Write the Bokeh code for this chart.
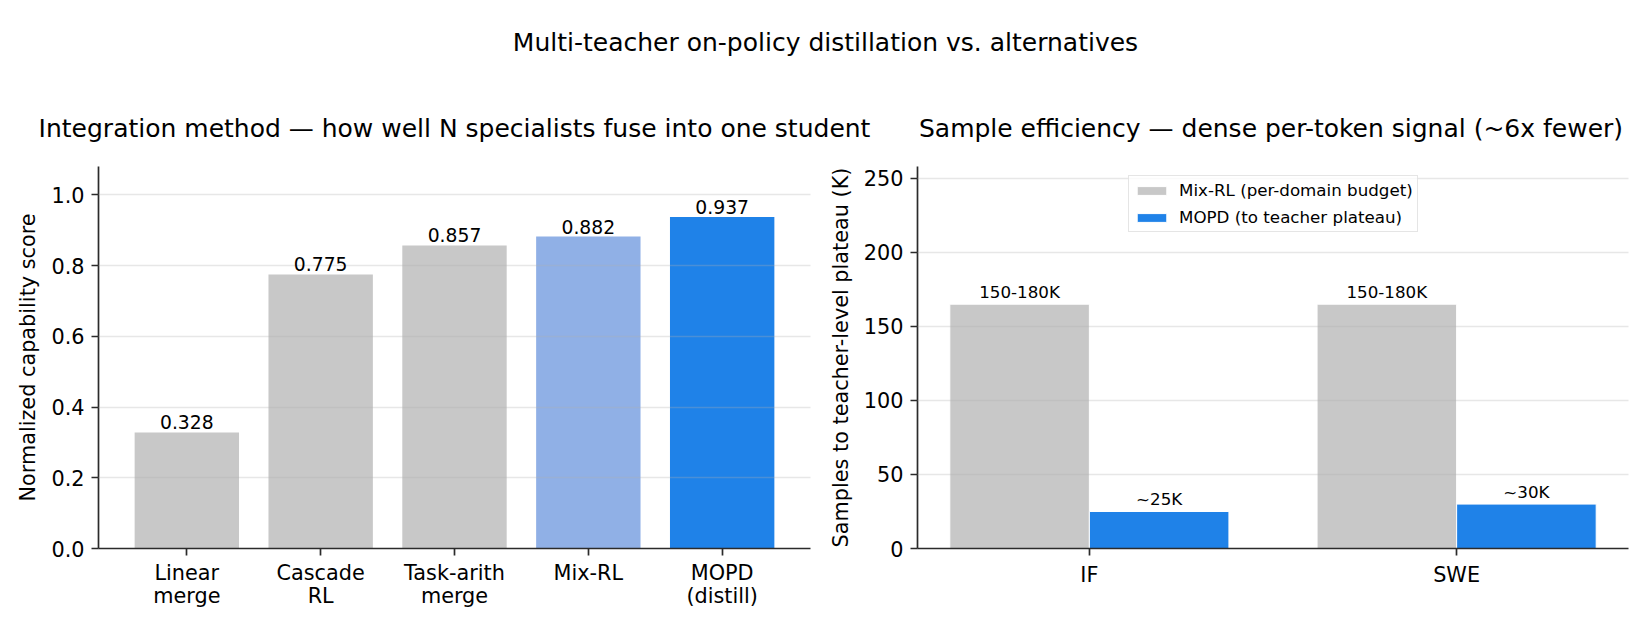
from bokeh.plotting import figure
from bokeh.layouts import column, row
from bokeh.models import (ColumnDataSource, Range1d, FixedTicker, PrintfTickFormatter,
                          LabelSet, Legend, LegendItem, Label)
from bokeh.core.properties import value
from bokeh.transform import dodge
from bokeh.embed import file_html
from bokeh.resources import INLINE

FONT = "DejaVu Sans"
INK = "#2b2b2b"

suptitle = "Multi-teacher on-policy distillation vs. alternatives"

# Left panel: integration methods
left_title = "Integration method \u2014 how well N specialists fuse into one student"
methods = ["Linear\nmerge", "Cascade\nRL", "Task-arith\nmerge", "Mix-RL", "MOPD\n(distill)"]
scores = [0.328, 0.775, 0.857, 0.882, 0.937]
score_labels = ["0.328", "0.775", "0.857", "0.882", "0.937"]
method_colors = ["#c8c8c8", "#c8c8c8", "#c8c8c8", "#90b0e6", "#1f82e8"]
score_ticks = [0.0, 0.2, 0.4, 0.6, 0.8, 1.0]

# Right panel: samples needed to reach the teacher plateau (thousands)
right_title = "Sample efficiency \u2014 dense per-token signal (~6x fewer)"
domains = ["IF", "SWE"]
mixrl_samples = [165, 165]
mopd_samples = [25, 30]
mixrl_labels = ["150-180K", "150-180K"]
mopd_labels = ["~25K", "~30K"]
sample_ticks = [0, 50, 100, 150, 200, 250]
series_names = ["Mix-RL (per-domain budget)", "MOPD (to teacher plateau)"]
series_colors = ["#c8c8c8", "#1f82e8"]

HEADER_H = 150
LEFT_W, RIGHT_W = 825, 825
# frame geometry (left border, frame width) for each panel
L_BORDER, L_FRAME = 98, 712
R_BORDER, R_FRAME = 90, 711


def style_axes(p):
    p.outline_line_color = None
    p.xgrid.visible = False
    p.ygrid.grid_line_color = "#b0b0b0"
    p.ygrid.grid_line_alpha = 0.3
    p.ygrid.grid_line_width = 1.5
    p.ygrid.level = "guide"
    for ax in (p.xaxis[0], p.yaxis[0]):
        ax.axis_line_color = INK
        ax.axis_line_width = 1.7
        ax.major_tick_line_color = INK
        ax.major_tick_line_width = 1.7
        ax.major_tick_out = 7
        ax.major_tick_in = 0
        ax.minor_tick_line_color = None
        ax.major_label_standoff = 7
        ax.major_label_text_font = FONT
        ax.major_label_text_font_size = "20.8px"
        ax.major_label_text_color = "black"
        ax.major_label_text_line_height = 0.96
        ax.axis_label_text_font = FONT
        ax.axis_label_text_font_size = "20.8px"
        ax.axis_label_text_font_style = "normal"
        ax.axis_label_text_color = "black"
        ax.axis_label_standoff = 8


def header_text(p, x, y, text):
    p.add_layout(Label(x=x, y=y, text=text, text_align="center", text_baseline="middle",
                       text_font=FONT, text_font_size="25px", text_color="black"))


# Header band holding the overall title and both panel titles
p0 = figure(width=LEFT_W + RIGHT_W, height=HEADER_H, x_axis_type=None, y_axis_type=None,
            x_range=Range1d(0, LEFT_W + RIGHT_W), y_range=Range1d(HEADER_H, 0),
            min_border=0, toolbar_location=None, output_backend="svg")
p0.grid.visible = False
p0.outline_line_color = None
header_text(p0, (LEFT_W + RIGHT_W) / 2, 42, suptitle)
header_text(p0, L_BORDER + L_FRAME / 2, 128, left_title)
header_text(p0, LEFT_W + R_BORDER + R_FRAME / 2, 128, right_title)

# Left panel
src1 = ColumnDataSource(dict(x=list(range(len(methods))), score=scores,
                             label=score_labels, color=method_colors))
p1 = figure(frame_width=L_FRAME, frame_height=382, min_border_left=L_BORDER,
            min_border_right=LEFT_W - L_BORDER - L_FRAME,
            min_border_top=16, min_border_bottom=82,
            x_range=Range1d(-0.66, len(methods) - 1 + 0.66), y_range=Range1d(0, 1.08),
            toolbar_location=None, output_backend="svg")
p1.vbar(x="x", top="score", width=0.78, fill_color="color", line_color=None, source=src1)
p1.add_layout(LabelSet(x="x", y="score", text="label", source=src1, text_align="center",
                       text_baseline="alphabetic", y_offset=3, text_font=value(FONT),
                       text_font_size="18.75px", text_color="black"))
style_axes(p1)
p1.xaxis.ticker = FixedTicker(ticks=list(range(len(methods))))
p1.xaxis.major_label_overrides = {i: m for i, m in enumerate(methods)}
p1.xaxis.major_label_standoff = 5
p1.yaxis.ticker = FixedTicker(ticks=score_ticks)
p1.yaxis.formatter = PrintfTickFormatter(format="%.1f")
p1.yaxis.axis_label = "Normalized capability score"

# Right panel
src2 = ColumnDataSource(dict(x=list(range(len(domains))), mixrl=mixrl_samples,
                             mopd=mopd_samples, mixrl_label=mixrl_labels,
                             mopd_label=mopd_labels))
p2 = figure(frame_width=R_FRAME, frame_height=382, min_border_left=R_BORDER,
            min_border_right=RIGHT_W - R_BORDER - R_FRAME,
            min_border_top=16, min_border_bottom=82,
            x_range=Range1d(-0.468, len(domains) - 1 + 0.468), y_range=Range1d(0, 258),
            toolbar_location=None, output_backend="svg")
r_mix = p2.vbar(x=dodge("x", -0.19), top="mixrl", width=0.38, fill_color=series_colors[0],
                line_color="white", line_width=1, source=src2)
r_mopd = p2.vbar(x=dodge("x", 0.19), top="mopd", width=0.38, fill_color=series_colors[1],
                 line_color="white", line_width=1, source=src2)
for field, lab, off in (("mixrl", "mixrl_label", -0.19), ("mopd", "mopd_label", 0.19)):
    p2.add_layout(LabelSet(x=dodge("x", off), y=field, text=lab, source=src2,
                           text_align="center", text_baseline="alphabetic", y_offset=6,
                           text_font=value(FONT), text_font_size="16.7px",
                           text_color="black"))
style_axes(p2)
p2.xaxis.ticker = FixedTicker(ticks=list(range(len(domains))))
p2.xaxis.major_label_overrides = {i: d for i, d in enumerate(domains)}
p2.yaxis.ticker = FixedTicker(ticks=sample_ticks)
p2.yaxis.formatter = PrintfTickFormatter(format="%d")
p2.yaxis.axis_label = "Samples to teacher-level plateau (K)"

legend = Legend(items=[LegendItem(label=series_names[0], renderers=[r_mix]),
                       LegendItem(label=series_names[1], renderers=[r_mopd])],
                location=(211, 316), padding=4, spacing=7, margin=0,
                glyph_width=37, glyph_height=11, label_height=20, label_standoff=9,
                label_text_font=FONT, label_text_font_size="16.7px",
                label_text_color="black", border_line_color="#cccccc",
                border_line_width=1, background_fill_alpha=0.8)
p2.add_layout(legend)

layout = column(p0, row(p1, p2))
open("out.html", "w").write(file_html(layout, INLINE))
